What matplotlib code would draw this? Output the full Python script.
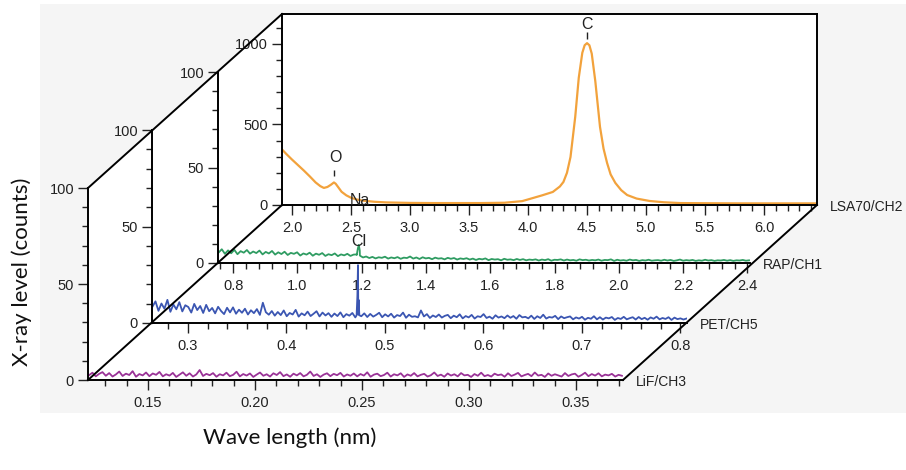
import numpy as np
import matplotlib
matplotlib.use("Agg")
import matplotlib.pyplot as plt
from matplotlib.ticker import MultipleLocator, FormatStrFormatter
from matplotlib.lines import Line2D
from matplotlib.patches import Rectangle, Polygon

plt.rcParams['font.family'] = ['Liberation Sans', 'DejaVu Sans']

# ---------------- data ----------------
# LSA70/CH2 (orange) wavelength nm, counts
lsa_x = [1.915, 1.95, 2.00, 2.05, 2.10, 2.15, 2.20, 2.24, 2.27, 2.30, 2.33, 2.355, 2.37, 2.39,
         2.42, 2.46, 2.50, 2.55, 2.60, 2.70, 2.80, 3.00, 3.20, 3.40, 3.60, 3.80, 3.95, 4.04,
         4.12, 4.21, 4.27, 4.30, 4.33, 4.36, 4.40, 4.43, 4.46, 4.48, 4.50, 4.52, 4.54, 4.57,
         4.61, 4.64, 4.67, 4.70, 4.74, 4.79, 4.84, 4.92, 5.03, 5.15, 5.29, 5.50, 5.80, 6.10, 6.45]
lsa_y = [345, 318, 282, 248, 214, 178, 140, 117, 106, 112, 126, 140, 132, 112,
         82, 60, 45, 34, 27, 20, 16, 13, 12, 12, 12, 14, 24, 43,
         60, 81, 115, 143, 200, 298, 547, 790, 945, 992, 1005, 992, 940, 770,
         485, 350, 261, 190, 137, 92, 62, 40, 25, 17, 12, 11, 10, 10, 10]

# RAP/CH1 (green)
rap_range = (0.755, 2.405)
rap_y = [5.5, 7.2, 4.8, 6.6, 5.1, 6.9, 4.6, 6.2, 5.4, 6.8, 4.9, 6.0, 5.2, 6.5, 4.5, 5.8, 5.0, 6.3, 4.4, 5.6,
         4.7, 5.9, 4.2, 5.3, 4.8, 5.6, 3.9, 5.0, 4.4, 5.4, 3.8, 4.9, 4.3, 5.2, 3.7, 4.6, 4.1, 5.0, 3.6, 4.5,
         4.0, 4.8, 3.7, 4.4, 4.2, 3.9, 2.9, 3.4, 2.6, 3.2, 2.4, 3.0, 2.7, 3.3, 2.3, 2.9, 2.5, 3.1, 2.2, 2.8,
         2.6, 3.4, 2.3, 2.9, 2.1, 3.0, 2.4, 2.7, 2.0, 2.8, 2.3, 2.5, 1.9, 2.7, 2.2, 2.6, 1.8, 2.4, 2.1, 2.5,
         1.8, 2.3, 1.6, 2.2, 1.9, 2.4, 1.5, 2.1, 1.8, 2.0, 1.4, 2.2, 1.7, 1.9, 1.5, 2.1, 1.6, 2.0, 1.4, 1.8,
         1.6, 1.9, 1.3, 1.8, 1.5, 2.0, 1.2, 1.7, 1.6, 1.9, 1.3, 1.8, 1.4, 1.6, 1.2, 1.9, 1.5, 1.7, 1.3, 1.6,
         1.4, 1.8, 1.2, 1.6, 1.5, 1.9, 1.1, 1.7, 1.3, 1.5, 1.2, 1.8, 1.4, 1.6, 1.1, 1.5, 1.3, 1.7, 1.2, 1.4,
         1.5, 1.2, 1.7, 1.3, 1.6, 1.1, 1.4, 1.8, 1.2, 1.5, 1.3, 1.6, 1.1, 1.4, 1.2, 1.7, 1.3, 1.5, 1.1, 1.4,
         1.3, 1.6, 1.2, 1.5, 1.1, 1.4, 1.3, 1.6, 1.2, 1.4]
rap_peak_x = [1.184, 1.188, 1.191, 1.194, 1.198]
rap_peak_y = [4.5, 7.5, 9.5, 6.5, 3.5]

# PET/CH5 (blue)
pet_range = (0.2640, 0.8060)
pet_y = [8.5, 11.2, 6.3, 10.1, 7.4, 12.0, 5.8, 9.6, 7.1, 10.8, 6.0, 9.2, 8.3, 5.4, 9.9, 6.7, 8.8, 5.2, 9.4, 6.1,
         7.8, 5.0, 8.4, 6.2, 4.6, 7.9, 5.5, 8.1, 4.8, 6.9, 5.3, 7.4, 4.4, 6.6, 5.1, 7.2, 4.2, 10.5, 5.6, 4.3,
         6.2, 3.8, 5.7, 4.1, 6.5, 3.5, 5.2, 4.4, 6.8, 3.3, 5.0, 4.0, 5.9, 3.6, 4.8, 6.1, 3.4, 5.4, 3.9, 5.1,
         3.2, 4.9, 3.6, 5.5, 3.0, 4.6, 3.8, 5.2, 2.9, 4.4, 3.5, 5.0, 3.1, 4.7, 3.3, 4.2, 5.3, 3.0, 4.5, 3.4,
         4.8, 2.8, 4.1, 3.6, 5.4, 2.7, 4.3, 3.2, 3.5, 2.9, 6.5, 3.4, 4.6, 2.6, 3.9, 3.1, 4.4, 2.8, 3.7, 4.2,
         2.5, 3.8, 3.0, 4.5, 2.4, 3.6, 2.9, 4.2, 2.3, 3.5, 3.1, 4.6, 2.6, 3.3, 2.2, 4.0, 2.8, 3.4, 2.5, 3.9,
         2.7, 3.6, 2.2, 4.1, 2.9, 3.2, 2.4, 3.8, 2.1, 3.5, 2.6, 4.3, 2.3, 3.1, 2.8, 3.7, 2.0, 3.4, 2.5, 3.0,
         3.4, 1.9, 2.9, 2.3, 3.2, 1.7, 2.7, 2.2, 3.5, 1.9, 3.0, 1.8, 2.8, 2.4, 3.1, 1.6, 2.6, 2.1, 3.2, 1.9,
         2.5, 3.0, 1.8, 3.1, 2.0, 2.7, 1.7, 2.9, 2.2, 3.3, 1.9, 2.6, 2.1, 3.0, 1.6, 2.8, 2.0, 2.4, 1.8, 2.3]
pet_peak_x = [0.4712, 0.4720, 0.4726, 0.4732, 0.4740]
pet_peak_y = [4.0, 14.0, 30.0, 12.0, 4.0]

# LiF/CH3 (purple)
lif_range = (0.1225, 0.3715)
lif_y = [2.5, 3.8, 1.9, 3.2, 4.1, 2.2, 3.6, 1.8, 2.9, 4.4, 2.1, 3.3, 2.6, 4.6, 1.7, 3.1, 2.4, 3.9, 2.0, 3.4,
         2.7, 4.2, 1.9, 3.0, 2.3, 3.7, 1.6, 2.8, 4.0, 2.2, 3.5, 1.8, 2.9, 5.2, 2.1, 3.2, 2.5, 3.6, 1.7, 3.0,
         2.4, 3.8, 2.0, 2.7, 4.3, 1.9, 3.1, 2.3, 3.4, 1.6, 2.8, 3.9, 2.2, 3.0, 1.8, 3.5, 2.6, 4.1, 2.0, 2.9,
         1.7, 3.3, 2.4, 3.6, 1.9, 2.7, 4.4, 2.1, 3.0, 1.6, 2.8, 3.5, 2.0, 3.2, 2.5, 3.7, 1.8, 2.9, 2.2, 3.4,
         1.9, 3.1, 2.3, 4.0, 1.7, 2.8, 3.3, 2.0, 2.6, 3.8, 1.8, 3.0, 2.4, 3.5, 1.6, 2.9, 2.2, 3.6, 1.9, 2.7,
         3.2, 1.8, 2.5, 3.9, 2.1, 2.8, 1.7, 3.4, 2.3, 3.0, 1.9, 3.6, 2.4, 2.7, 1.6, 3.1, 2.2, 3.8, 2.0, 2.6,
         1.8, 3.3, 2.5, 2.9, 1.7, 3.5, 2.1, 2.8, 3.7, 1.9, 2.6, 3.2, 2.0, 3.9, 2.3, 2.7, 1.6, 3.4, 2.2, 3.0,
         2.4, 1.8, 3.6, 2.1, 2.9, 3.3, 1.7, 2.6, 3.8, 2.0, 3.1, 2.3, 3.5, 1.9, 2.8, 2.4, 3.2, 1.8, 2.7, 2.2]

series_names = ["LSA70/CH2", "RAP/CH1", "PET/CH5", "LiF/CH3"]
series_colors = ["#f2a23c", "#2f9c62", "#3b56b2", "#9a3397"]

# ---------------- layout (pixels) ----------------
W, H = 906, 470
fig = plt.figure(figsize=(W / 100, H / 100), dpi=100)
fig.patch.set_facecolor("white")

def fx(px):
    return px / W

def fy(py):
    return 1 - py / H

# gray backdrop and white box interior
fig.patches.append(Rectangle((fx(40), fy(413)), fx(906) - fx(40), fy(4) - fy(413),
                             transform=fig.transFigure, facecolor="#f5f5f5",
                             edgecolor="none", zorder=-20))
box = [(88, 188), (282, 14), (817, 14), (817, 205), (623, 380), (88, 380)]
fig.patches.append(Polygon([(fx(a), fy(b)) for a, b in box], closed=True,
                           transform=fig.transFigure, facecolor="white",
                           edgecolor="none", zorder=-19))

def panel(x0, x1, ytop, ybot):
    ax = fig.add_axes([fx(x0), fy(ybot), fx(x1) - fx(x0), fy(ytop) - fy(ybot)])
    ax.patch.set_alpha(0)
    return ax

tick_font = 10.5

def style(ax, xmaj, xmin, ymaj, ymin, xfmt, full_frame=False):
    ax.xaxis.set_major_locator(MultipleLocator(xmaj))
    ax.xaxis.set_minor_locator(MultipleLocator(xmin))
    ax.yaxis.set_major_locator(MultipleLocator(ymaj))
    ax.yaxis.set_minor_locator(MultipleLocator(ymin))
    ax.xaxis.set_major_formatter(FormatStrFormatter(xfmt))
    ax.tick_params(which="major", direction="out", length=7, width=1.0,
                   labelsize=tick_font, colors="#222222", pad=3)
    ax.tick_params(which="minor", direction="out", length=4, width=1.0, colors="#222222")
    ax.tick_params(axis="x", which="major", length=7.5, pad=4)
    for s in ["left", "bottom", "top", "right"]:
        ax.spines[s].set_linewidth(1.4)
        ax.spines[s].set_color("black")
    if not full_frame:
        ax.spines["top"].set_visible(False)
        ax.spines["right"].set_visible(False)

# back panel: LSA70/CH2
ax_lsa = panel(282, 817, 14, 205)
ax_lsa.plot(lsa_x, lsa_y, color=series_colors[0], lw=1.6)
ax_lsa.set_xlim(1.915, 6.449)
ax_lsa.set_ylim(0, 1186)
style(ax_lsa, 0.5, 0.1, 500, 100, "%.1f", full_frame=True)

# RAP/CH1
ax_rap = panel(218, 750, 72, 263)
rx = np.linspace(rap_range[0], rap_range[1], len(rap_y))
rxa = np.concatenate([rx, rap_peak_x])
rya = np.concatenate([rap_y, rap_peak_y])
o = np.argsort(rxa)
ax_rap.plot(rxa[o], rya[o], color=series_colors[1], lw=1.3)
ax_rap.set_xlim(0.753, 2.408)
ax_rap.set_ylim(0, 100)
style(ax_rap, 0.2, 0.04, 50, 10, "%.1f")

# PET/CH5
ax_pet = panel(152, 687, 130, 323)
px_ = np.linspace(pet_range[0], pet_range[1], len(pet_y))
pxa = np.concatenate([px_, pet_peak_x])
pya = np.concatenate([pet_y, pet_peak_y])
o = np.argsort(pxa)
ax_pet.plot(pxa[o], pya[o], color=series_colors[2], lw=1.3)
ax_pet.set_xlim(0.2635, 0.8066)
ax_pet.set_ylim(0, 100)
style(ax_pet, 0.1, 0.02, 50, 10, "%.1f")

# LiF/CH3 (front)
ax_lif = panel(88, 623, 188, 380)
lx = np.linspace(lif_range[0], lif_range[1], len(lif_y))
ax_lif.plot(lx, lif_y, color=series_colors[3], lw=1.3)
ax_lif.set_xlim(0.122, 0.372)
ax_lif.set_ylim(0, 100)
style(ax_lif, 0.05, 0.01, 50, 10, "%.2f")

# series labels at right end of each baseline
for ax, name in zip([ax_lsa, ax_rap, ax_pet, ax_lif], series_names):
    ax.annotate(name, xy=(1, 0), xycoords="axes fraction", xytext=(13, -2),
                textcoords="offset pixels", ha="left", va="center",
                fontsize=10, color="#222222", annotation_clip=False)

# element annotations
ax_lsa.text(4.50, 1118, "C", ha="center", va="center", fontsize=11.5, color="#222222")
ax_lsa.vlines(4.50, 1028, 1072, color="#222222", lw=1.0)
ax_lsa.text(2.364, 292, "O", ha="center", va="center", fontsize=11.5, color="#222222")
ax_lsa.vlines(2.356, 182, 215, color="#222222", lw=1.0)
ax_lsa.text(2.576, 31, "Na", ha="center", va="center", fontsize=11.5, color="#222222",
            clip_on=False)
ax_rap.text(1.192, 11, "Cl", ha="center", va="center", fontsize=11.5, color="#222222",
            clip_on=False)

# perspective diagonals
for (a, b), (c, d) in [((88, 188), (282, 14)), ((88, 380), (282, 205)), ((623, 380), (817, 205))]:
    fig.add_artist(Line2D([fx(a), fx(c)], [fy(b), fy(d)], transform=fig.transFigure,
                          color="black", lw=1.4, zorder=5))

# axis titles
fig.text(fx(22), fy(272), "X-ray level (counts)", rotation=90, ha="center", va="center",
         fontsize=16, family=["Lato", "DejaVu Sans"], color="#111111")
fig.text(fx(290), fy(438), "Wave length (nm)", ha="center", va="center",
         fontsize=16, family=["Lato", "DejaVu Sans"], color="#111111")

fig.savefig("out.png", dpi=100)
